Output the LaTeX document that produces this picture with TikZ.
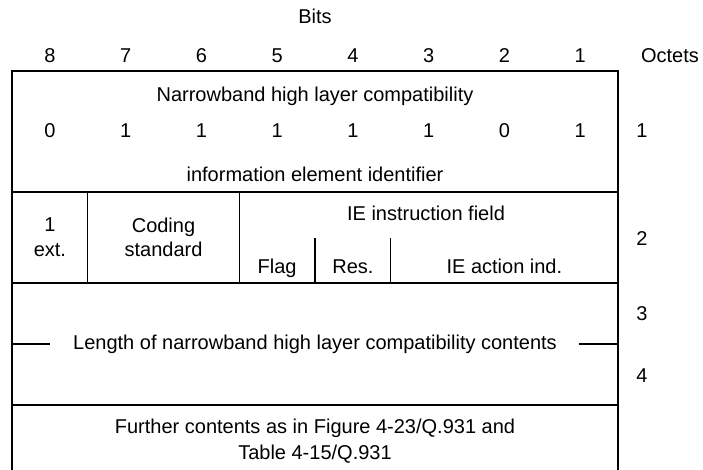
\documentclass[tikz,border=0pt]{standalone}
\usepackage{fontspec}
\setmainfont{Liberation Sans}
\begin{document}
\begin{tikzpicture}[x=1pt,y=-1pt,
  lbl/.style={anchor=base, inner sep=0pt, font=\fontsize{20}{24}\selectfont},
  edge/.style={line width=1.1pt},
  rule/.style={line width=1.8pt},
  divider/.style={line width=1.4pt}]
\useasboundingbox (0,0) rectangle (703,470);

% column boundaries of the octet frame
\def\xl{12}
\def\xr{618}
\def\cw{75.75}

% heading
\node[lbl] (bits) at (315,24) {Bits};
\foreach \b [count=\i from 0] in {8,7,6,5,4,3,2,1}
  \node[lbl] (bit\b) at ({\xl+\cw*(\i+0.5)},63) {\b};
\node[lbl] (octets) at (670,63) {Octets};

% frame
\draw[edge] (\xl,470) -- (\xl,71) -- (\xr,71) -- (\xr,470);
\draw[line width=2pt] (\xl,438) -- (\xl,470);
\draw[line width=2pt] (\xr,438) -- (\xr,470);
\draw[rule] (\xl,192) -- (\xr,192);
\draw[rule] (\xl,283) -- (\xr,283);
\draw[rule] (\xl,405) -- (\xr,405);

% octet 1
\node[lbl] (title) at (315,102) {Narrowband high layer compatibility};
\foreach \v [count=\i from 0] in {0,1,1,1,1,1,0,1}
  \node[lbl] (v\i) at ({\xl+\cw*(\i+0.5)},138) {\v};
\node[lbl] (oct1) at (642,138) {1};
\node[lbl] (ident) at (315,182) {information element identifier};

% octet 2
\draw[divider] ({\xl+\cw},192) -- ({\xl+\cw},283);
\draw[divider] ({\xl+3*\cw},192) -- ({\xl+3*\cw},283);
\draw[divider] ({\xl+4*\cw},238) -- ({\xl+4*\cw},283);
\draw[divider] ({\xl+5*\cw},238) -- ({\xl+5*\cw},283);
\node[lbl] (ext1) at ({\xl+0.5*\cw},232) {1};
\node[lbl] (ext2) at ({\xl+0.5*\cw},256) {ext.};
\node[lbl] (cod1) at ({\xl+2*\cw},233) {Coding};
\node[lbl] (cod2) at ({\xl+2*\cw},256) {standard};
\node[lbl] (instr) at (426,220) {IE instruction field};
\node[lbl] (flag) at ({\xl+3.5*\cw},273) {Flag};
\node[lbl] (res) at ({\xl+4.5*\cw},273) {Res.};
\node[lbl] (action) at ({\xl+6.5*\cw},273) {IE action ind.};
\node[lbl] (oct2) at (642,245) {2};

% octets 3 and 4
\draw[rule] (\xl,344) -- (50,344);
\draw[rule] (579,344) -- (\xr,344);
\node[lbl] (length) at (315,349) {Length of narrowband high layer compatibility contents};
\node[lbl] (oct3) at (642,320) {3};
\node[lbl] (oct4) at (642,382) {4};

% further octets
\node[lbl] (more1) at (315,433) {Further contents as in Figure 4-23/Q.931 and};
\node[lbl] (more2) at (315,459) {Table 4-15/Q.931};
\end{tikzpicture}
\end{document}
